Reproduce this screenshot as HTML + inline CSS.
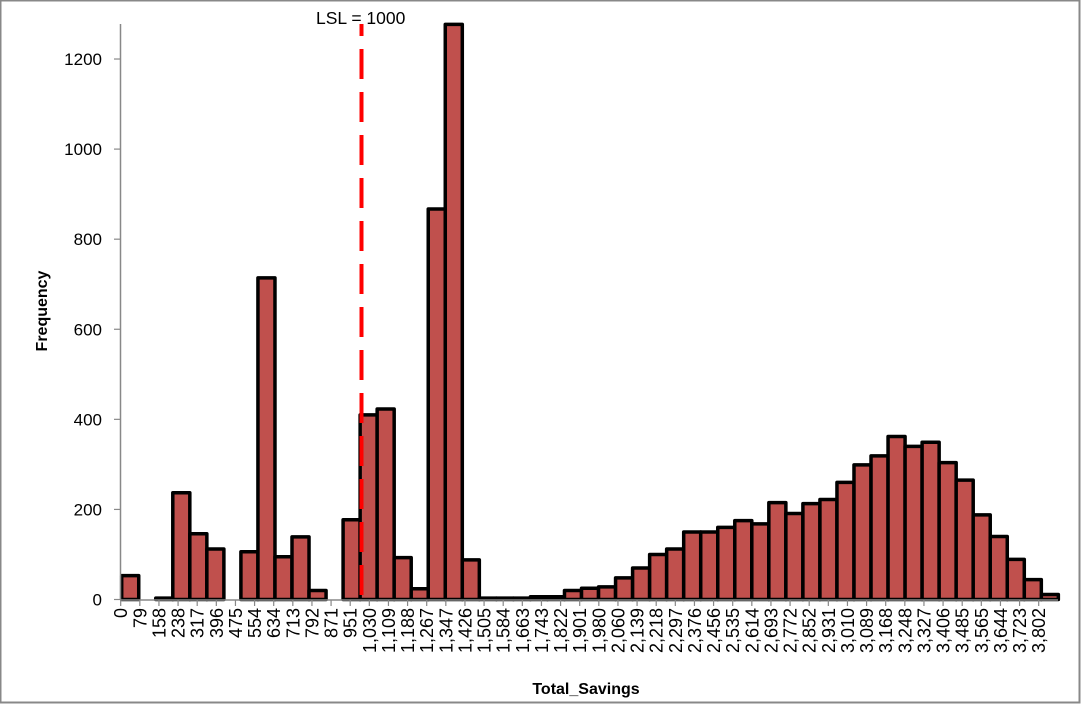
<!DOCTYPE html>
<html><head><meta charset="utf-8"><style>
html,body{margin:0;padding:0;background:#fff}
svg{display:block;font-family:"Liberation Sans",sans-serif}
</style></head><body>
<svg id="s" width="1081" height="704" viewBox="0 0 1081 704" xmlns="http://www.w3.org/2000/svg">
<rect x="0.5" y="0.5" width="1079" height="702" fill="#fff" stroke="#888" stroke-width="2"/>
<g id="bars"></g>
<g id="axes"></g>
<line x1="361.5" y1="24" x2="361.5" y2="600" stroke="#f00" stroke-width="4" stroke-dasharray="30,13" stroke-dashoffset="-25"/>
<text x="316" y="24" font-size="17.5" fill="#000">LSL = 1000</text>
<text x="586" y="694" font-size="16" font-weight="bold" text-anchor="middle">Total_Savings</text>
<text transform="translate(47,311) rotate(-90)" font-size="16" font-weight="bold" text-anchor="middle">Frequency</text>
</svg>
<script>
var NS="http://www.w3.org/2000/svg";
function el(p,t,a,txt){var e=document.createElementNS(NS,t);for(var k in a)e.setAttribute(k,a[k]);if(txt!==undefined)e.textContent=txt;p.appendChild(e);return e;}
var vals=[53,0,3,237,146,112,0,106,714,95,139,20,0,177,410,423,93,24,867,1277,88,3,3,3,6,6,20,25,28,48,70,100,112,150,150,160,175,168,215,191,213,222,260,299,319,362,340,349,304,265,188,140,89,44,11];
var y0=599.5,k=0.4504,x0=121.7,w=17.03;
var b=document.getElementById("bars");
vals.forEach(function(v,i){if(v<=0)return;var h=Math.min(v*k,y0-24);
el(b,"rect",{x:x0+w*i,y:y0-h,width:w,height:h,fill:"#c0504d",stroke:"#000","stroke-width":3.5,"stroke-linejoin":"round"});});
var a=document.getElementById("axes");
el(a,"line",{x1:120.5,y1:24,x2:120.5,y2:600,stroke:"#888","stroke-width":1.5});
el(a,"line",{x1:120,y1:600,x2:1058,y2:600,stroke:"#888","stroke-width":1.5});
for(var j=0;j<=6;j++){var y=y0-j*200*k;
el(a,"line",{x1:114,y1:y,x2:120.5,y2:y,stroke:"#888","stroke-width":1.2});
el(a,"text",{x:102,y:y+6,"font-size":17,"text-anchor":"end"},String(j*200));}
var labs=["0","79","158","238","317","396","475","554","634","713","792","871","951","1,030","1,109","1,188","1,267","1,347","1,426","1,505","1,584","1,663","1,743","1,822","1,901","1,980","2,060","2,139","2,218","2,297","2,376","2,456","2,535","2,614","2,693","2,772","2,852","2,931","3,010","3,089","3,168","3,248","3,327","3,406","3,485","3,565","3,644","3,723","3,802"];
for(var i=0;i<49;i++){var x=120.7+19.125*i;
el(a,"line",{x1:x,y1:600,x2:x,y2:606,stroke:"#888","stroke-width":1.2});
el(a,"text",{transform:"translate("+(x+6.5)+",608) rotate(-90)","font-size":18,"text-anchor":"end"},labs[i]);}
</script>
</body></html>
